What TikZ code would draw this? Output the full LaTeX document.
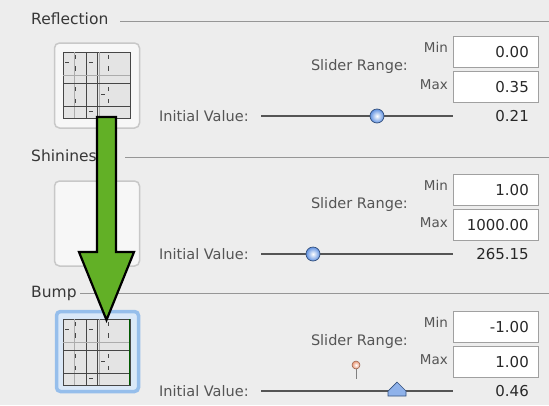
\documentclass[tikz,border=0pt]{standalone}
\usepackage{fontspec}
\setmainfont{DejaVu Sans}
\definecolor{bgc}{RGB}{237,237,237}
\definecolor{titlec}{RGB}{55,55,55}
\definecolor{lblc}{RGB}{85,85,85}
\definecolor{valc}{RGB}{40,40,40}
\definecolor{fieldc}{RGB}{160,160,160}
\definecolor{sepc}{RGB}{150,150,150}
\definecolor{trackc}{RGB}{85,85,85}
\definecolor{knobc}{RGB}{95,145,225}
\definecolor{greenc}{RGB}{98,176,38}
\definecolor{iconc}{RGB}{200,200,200}
\definecolor{selc}{RGB}{150,190,235}
\definecolor{gridc}{RGB}{70,70,70}
\definecolor{thumbc}{RGB}{228,228,228}
\definecolor{pinc}{RGB}{235,150,115}
\tikzset{
  titletext/.style={font=\fontsize{15.5}{18}\selectfont, text=titlec, inner sep=0pt},
  lbltext/.style={font=\fontsize{14.5}{17}\selectfont, text=lblc, inner sep=0pt},
  smalltext/.style={font=\fontsize{13.5}{16}\selectfont, text=lblc, inner sep=0pt},
  valtext/.style={font=\fontsize{15}{18}\selectfont, text=valc, inner sep=0pt},
  field/.style={draw=fieldc, fill=white, line width=0.9pt, minimum width=85pt, minimum height=31pt, inner sep=0pt},
  sepline/.style={draw=sepc, line width=0.9pt},
  track/.style={draw=trackc, line width=1.6pt},
  iconbox/.style={draw=iconc, fill=white!94!gray, line width=1.5pt, rounded corners=5pt},
  selbox/.style={draw=selc, fill=selc!35!white, line width=3.5pt, rounded corners=4pt},
  gridline/.style={draw=gridc, line width=0.6pt},
  lightline/.style={draw=gridc!45, line width=0.6pt},
  tick/.style={draw=gridc, line width=0.8pt},
  knobstyle/.style={inner color=white, outer color=knobc},
  bigarrow/.style={fill=greenc, draw=black, line width=2.2pt, line join=miter},
}
\newcommand{\rangepanel}[6]{%
  \begin{scope}[shift={(0,#1)}]
    \node[lbltext, anchor=base east] (sr#2) at (408,70) {Slider Range:};
    \node[smalltext, anchor=base east] (mn#2) at (448,52.5) {Min};
    \node[smalltext, anchor=base east] (mx#2) at (448,89.5) {Max};
    \node[field] (fmin#2) at (495.5,51.5) {};
    \node[field] (fmax#2) at (495.5,87) {};
    \node[valtext, anchor=base east] (vmin#2) at (529,57) {#3};
    \node[valtext, anchor=base east] (vmax#2) at (529,92.5) {#4};
    \node[lbltext, anchor=base west] (iv#2) at (159,121) {Initial Value:};
    \coordinate (ta#2) at (261,116);
    \coordinate (tb#2) at (453,116);
    \draw[track] (ta#2) -- (tb#2);
    \node[valtext, anchor=base east] (val#2) at (529,121) {#5};
    \coordinate (knob#2) at (#6,116);
  \end{scope}}
\newcommand{\gridthumb}[2]{% #1 left x, #2 top y ; 67 x 66
  \begin{scope}[shift={(#1,#2)}]
    \fill[thumbc] (0,0) rectangle (67,66);
    \draw[gridline] (0,0) rectangle (67,66);
    \draw[lightline] (11,0) -- (11,66);
    \draw[gridline] (23,0) -- (23,66);
    \draw[gridline] (34,0) -- (34,66);
    \draw[lightline] (36,0) -- (36,66);
    \draw[lightline] (0,23) -- (67,23);
    \draw[gridline] (0,31) -- (67,31);
    \draw[gridline] (0,54) -- (67,54);
    \foreach \tx in {12,45} {
      \draw[tick] (\tx,3) -- (\tx,7);
      \draw[tick] (\tx,14) -- (\tx,19);
      \draw[tick] (\tx,35) -- (\tx,39);
      \draw[tick] (\tx,47) -- (\tx,51);
    }
    \draw[tick] (2,10) -- (6,10);
    \draw[tick] (26,10) -- (30,10);
    \draw[tick] (38,42) -- (42,42);
    \draw[tick] (26,59) -- (30,59);
  \end{scope}}
\begin{document}
\begin{tikzpicture}[x=1pt,y=-1pt]
\useasboundingbox (0,0) rectangle (549,405);
\fill[bgc] (0,0) rectangle (549,405);
% ---------- Reflection
\node[titletext, anchor=base west] (t1) at (31,24) {Reflection};
\coordinate (l1a) at (120,21);
\coordinate (l1b) at (549,21);
\draw[sepline] (l1a) -- (l1b);
\node[iconbox, minimum width=85pt, minimum height=85pt] (ic1) at (97,85.5) {};
\gridthumb{63}{52}
\rangepanel{0}{a}{0.00}{0.35}{0.21}{377}
\shade[knobstyle] (knoba) circle (7pt);
\draw[knobc!55!black, line width=0.7pt] (knoba) circle (7pt);
% ---------- Shininess
\node[titletext, anchor=base west] (t2) at (31,161) {Shininess};
\coordinate (l2a) at (125,157);
\coordinate (l2b) at (549,157);
\draw[sepline] (l2a) -- (l2b);
\node[iconbox, minimum width=85pt, minimum height=85pt] (ic2) at (97,223.5) {};
\rangepanel{138}{b}{1.00}{1000.00}{265.15}{313}
\shade[knobstyle] (knobb) circle (7pt);
\draw[knobc!55!black, line width=0.7pt] (knobb) circle (7pt);
% ---------- Bump
\node[titletext, anchor=base west] (t3) at (31,297) {Bump};
\coordinate (l3a) at (80,293);
\coordinate (l3b) at (549,293);
\draw[sepline] (l3a) -- (l3b);
\node[selbox, minimum width=82pt, minimum height=80pt] (ic3) at (97.5,351.5) {};
\gridthumb{63}{319}
\draw[line width=1pt, draw=green!35!black] (129.5,319) -- (129.5,385);
\rangepanel{275}{c}{-1.00}{1.00}{0.46}{397}
\coordinate (pin) at (356,365);
\draw[gray, line width=1pt] (pin) -- (356,379);
\shade[inner color=white, outer color=pinc] (pin) circle (4pt);
\draw[pinc!60!black, line width=0.5pt] (pin) circle (4pt);
\fill[knobc!70!white, draw=knobc!55!black, line width=0.7pt] (397,382) -- (406,391) -- (406,396) -- (388,396) -- (388,391) -- cycle;
% ---------- green arrow
\draw[bigarrow] (97,117) -- (116,117) -- (116,252) -- (134,252) -- (106.5,320) -- (79,252) -- (97,252) -- cycle;
\end{tikzpicture}
\end{document}
